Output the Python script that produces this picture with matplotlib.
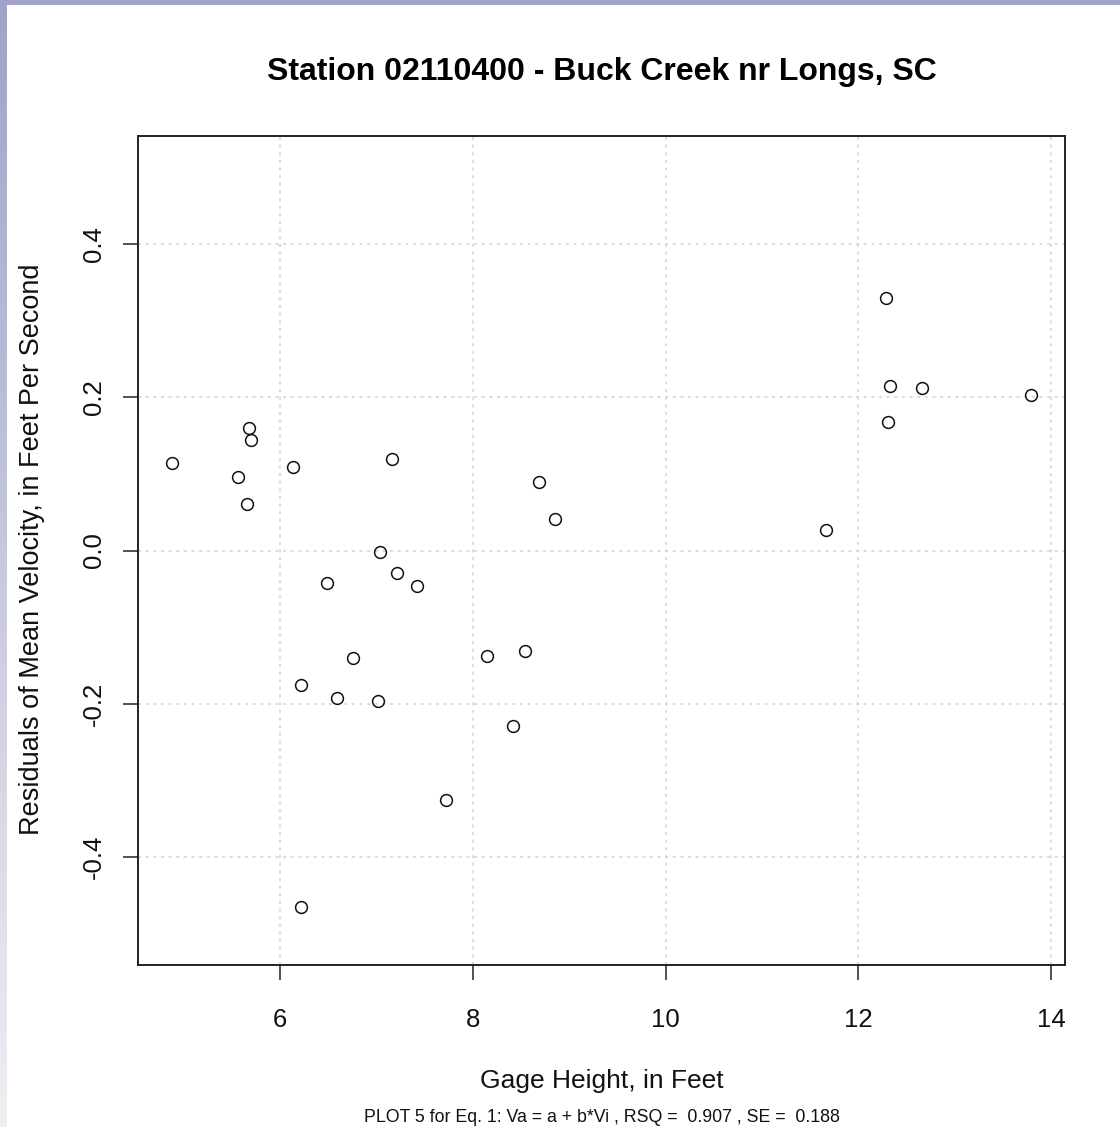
import matplotlib
matplotlib.use("Agg")
import matplotlib.pyplot as plt
import matplotlib.patches as mpatches
import numpy as np

plt.rcParams['font.family'] = ['Liberation Sans', 'DejaVu Sans']

# gage height (ft) and residuals of mean velocity (ft/s)
gage_height = [4.88, 5.56, 5.65, 5.68, 5.70, 6.13, 7.16, 7.04, 7.21, 7.42,
               6.49, 6.76, 6.22, 6.59, 7.02, 6.22, 7.72, 8.15, 8.54, 8.42,
               8.69, 8.85, 11.67, 12.29, 12.33, 12.66, 12.31, 13.79]
residuals = [0.114, 0.096, 0.061, 0.160, 0.144, 0.109, 0.120, -0.002, -0.029, -0.046,
             -0.043, -0.140, -0.175, -0.192, -0.197, -0.465, -0.325, -0.138, -0.131, -0.229,
             0.090, 0.041, 0.027, 0.330, 0.214, 0.212, 0.168, 0.203]

x_ticks = [6, 8, 10, 12, 14]
y_ticks = [-0.4, -0.2, 0.0, 0.2, 0.4]
y_range = (-0.52, 0.52)

title = "Station 02110400 - Buck Creek nr Longs, SC"
xlabel = "Gage Height, in Feet"
ylabel = "Residuals of Mean Velocity, in Feet Per Second"
caption = "PLOT 5 for Eq. 1: Va = a + b*Vi , RSQ =  0.907 , SE =  0.188"

W, H = 1120, 1127
fig = plt.figure(figsize=(W / 100, H / 100), dpi=100)
fig.patch.set_facecolor('white')

# window frame: flat band on top, fading band on the left
band = fig.add_axes([0, 0, 7 / W, 1])
grad = np.linspace(0, 1, 256)[:, None]
top_rgb = np.array([160, 163, 200]) / 255
bot_rgb = np.array([238, 238, 242]) / 255
img = top_rgb[None, None, :] * (1 - grad[:, :, None]) + bot_rgb[None, None, :] * grad[:, :, None]
band.imshow(img, aspect='auto', extent=[0, 1, 0, 1])
band.set_axis_off()
fig.add_artist(mpatches.Rectangle((0, 1 - 5 / H), 1, 5 / H, transform=fig.transFigure,
                                  facecolor=top_rgb, edgecolor='none'))

ax = fig.add_axes([138 / W, 1 - 965 / H, (1065 - 138) / W, (965 - 136) / H])
ax.plot(gage_height, residuals, 'o', mfc='none', mec='#111111', ms=8.5, mew=1.1,
        zorder=3)

# R-style 4% padding on both axes
ax.margins(x=0.04)
ypad = 0.04 * (y_range[1] - y_range[0]) / 2
ax.set_ylim(y_range[0] - ypad, y_range[1] + ypad)

ax.set_xticks(x_ticks)
ax.set_yticks(y_ticks)
ax.set_xticklabels([str(t) for t in x_ticks])
ax.set_yticklabels([f"{t:.1f}" for t in y_ticks], rotation=90, va='center')

ax.grid(True, color='#d3d3d3', linestyle=(0, (2, 3)), linewidth=1.1, zorder=0)
for s in ax.spines.values():
    s.set_linewidth(1.4)
    s.set_color('#222222')

ax.tick_params(axis='both', direction='out', length=11, width=1.2, color='#333333',
               labelsize=18.5, labelcolor='#111111')
ax.tick_params(axis='x', pad=20)
ax.tick_params(axis='y', pad=12)

cx = (138 + 1065) / 2 / W
fig.text(cx, 1 - 72 / H, title, ha='center', va='center',
         fontsize=23, fontweight='bold', color='black')
fig.text(cx, 1 - 1081 / H, xlabel, ha='center', va='center',
         fontsize=19, color='#111111')
fig.text(32 / W, 1 - 549 / H, ylabel, ha='center', va='center', rotation=90,
         fontsize=19.5, color='#111111')
fig.text(cx, 1 - 1117 / H, caption, ha='center', va='center',
         fontsize=12.8, color='#111111')

fig.savefig('out.png', dpi=100, facecolor='white')
